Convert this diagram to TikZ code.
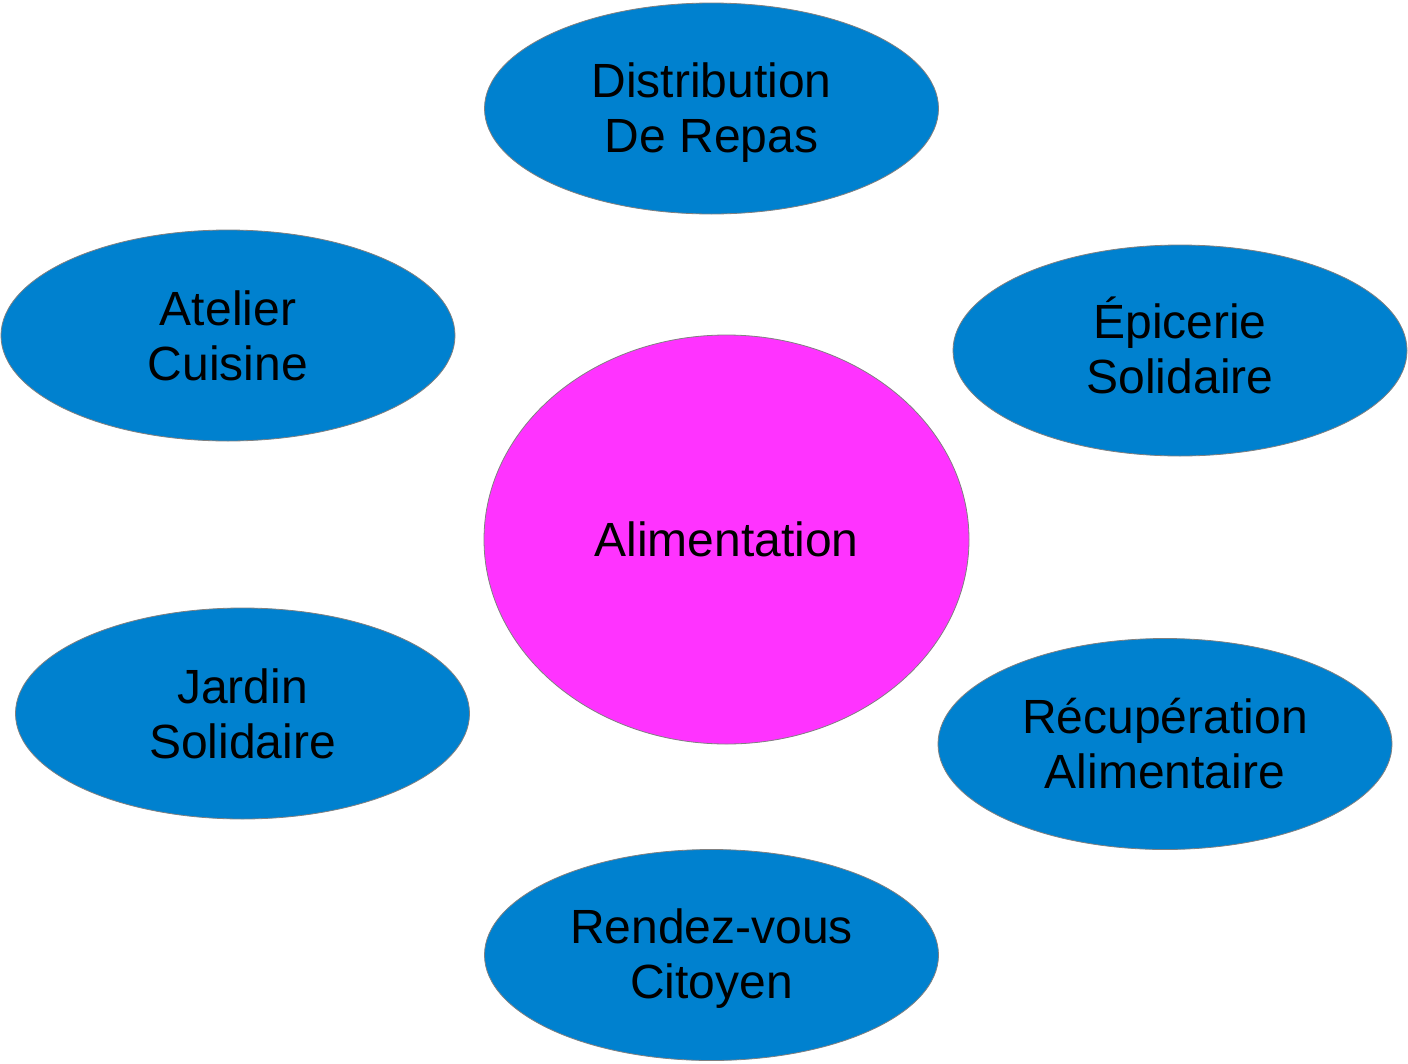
\documentclass[tikz,border=0pt]{standalone}
\usepackage{fontspec}
\setmainfont{Liberation Sans}
\usetikzlibrary{shapes.geometric}
\definecolor{bubble}{RGB}{0,129,207}
\definecolor{hub}{RGB}{255,51,255}
\definecolor{rim}{RGB}{128,128,128}
\tikzset{
  bub/.style={ellipse, draw=rim, line width=0.8pt, fill=bubble, minimum width=454pt, minimum height=211pt, inner sep=0pt},
  lbl/.style={inner sep=0pt, align=center, font=\fontsize{48}{55}\selectfont, text=black},
  hubstyle/.style={ellipse, draw=rim, line width=0.8pt, fill=hub, minimum width=485pt, minimum height=409pt, inner sep=0pt, align=center, font=\fontsize{48}{55}\selectfont, text=black}
}
\begin{document}
\begin{tikzpicture}[x=1pt,y=-1pt]
\useasboundingbox (0,0) rectangle (1408,1063);
\node[hubstyle] (ali) at (726.5,539.5) {Alimentation};
\node[bub] (dist) at (711.5,108.5) {};
\node[bub] (atel) at (228,335.5) {};
\node[bub] (epic) at (1180,350.5) {};
\node[bub] (jard) at (242.5,713.5) {};
\node[bub] (recu) at (1165,744) {};
\node[bub] (rdv) at (711.5,955) {};
\node[lbl] (distT) at ([yshift=-4pt]dist.center) {Distribution\\De Repas};
\node[lbl] (atelT) at ([yshift=0pt]atel.center) {Atelier\\Cuisine};
\node[lbl] (epicT) at ([yshift=5pt]epic.center) {Épicerie\\Solidaire};
\node[lbl] (jardT) at ([yshift=0pt]jard.center) {Jardin\\Solidaire};
\node[lbl] (recuT) at ([yshift=0pt]recu.center) {Récupération\\Alimentaire};
\node[lbl] (rdvT) at ([yshift=-4pt]rdv.center) {Rendez-vous\\Citoyen};
\end{tikzpicture}
\end{document}
